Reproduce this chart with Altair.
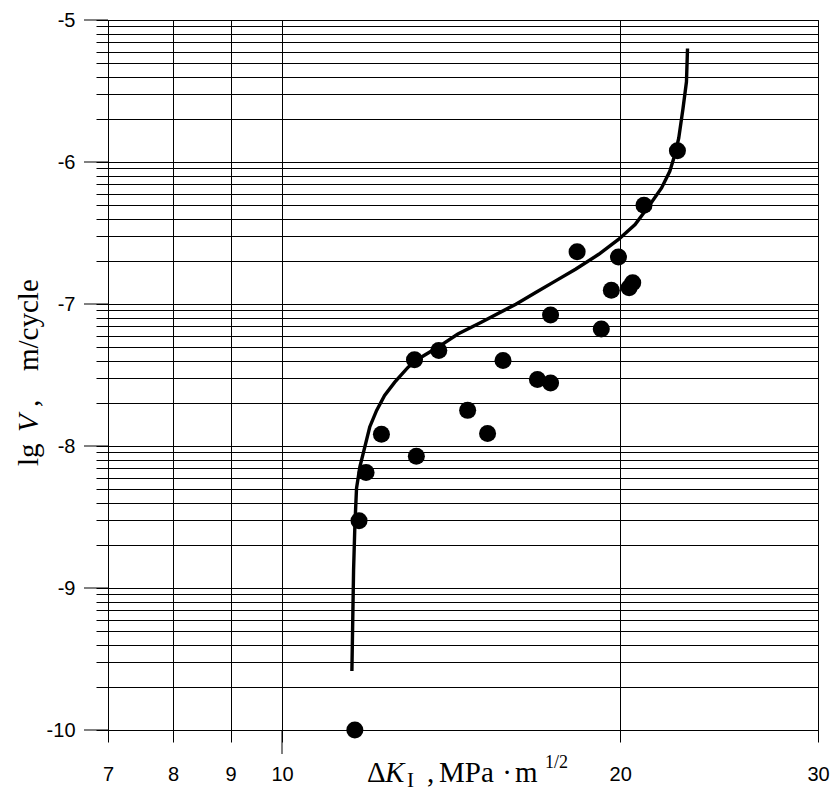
import math
import altair as alt
import pandas as pd

# ---- data ----
dk_points = [11.61, 11.71, 11.88, 12.26, 13.17, 13.12, 13.79, 14.63, 15.24, 15.73,
             16.88, 17.34, 17.34, 18.31, 19.24, 19.64, 19.93, 20.37, 20.52, 21.00, 22.49]
lgv_points = [-10.0, -8.527, -8.186, -7.917, -8.072, -7.393, -7.328, -7.749, -7.912, -7.398,
              -7.532, -7.557, -7.078, -6.632, -7.176, -6.903, -6.669, -6.886, -6.851, -6.304, -5.921]

dk_curve = [11.54, 11.58, 11.61, 11.65, 11.73, 11.85, 11.97, 12.14, 12.34, 12.60, 12.95,
            13.30, 13.76, 14.34, 15.03, 16.15, 16.82, 17.52, 18.25, 19.14, 19.93, 20.62,
            21.26, 21.77, 22.14, 22.37, 22.55, 22.75, 22.91, 22.96]
lgv_curve = [-9.584, -8.871, -8.567, -8.298, -8.147, -8.006, -7.866, -7.749, -7.644, -7.550, -7.445,
             -7.375, -7.305, -7.211, -7.130, -7.001, -6.919, -6.837, -6.755, -6.650, -6.545, -6.440,
             -6.299, -6.183, -6.066, -5.949, -5.832, -5.622, -5.435, -5.201]

x_ticks = [7, 8, 9, 10, 20, 30]
x_long_tick = [10]
y_major = [-10, -9, -8, -7, -6, -5]
y_grid = [d + math.log10(k) for d in y_major[:-1] for k in range(1, 10)] + [-5]

pts = pd.DataFrame({"x": dk_points, "y": lgv_points})
crv = pd.DataFrame({"x": dk_curve, "y": lgv_curve})
majors = pd.DataFrame({"y": y_major})
longx = pd.DataFrame({"x": x_long_tick})

W, H = 710, 710
xs = alt.Scale(type="log", domain=[7, 30], nice=False)
ys = alt.Scale(domain=[-10, -5], nice=False, zero=False)

x_axis = alt.Axis(values=x_ticks, tickCount=50, grid=True, gridColor="black", gridWidth=1,
                  gridOpacity=1, tickSize=12, tickColor="black", tickWidth=1, domain=False,
                  labelFont="Liberation Sans", labelFontSize=20, labelColor="black",
                  labelPadding=22, labelExpr="'' + datum.value", labelFlush=False,
                  labelOverlap=False, labelBound=False, title=None)
y_axis = alt.Axis(values=y_grid, tickCount=200, grid=True, gridColor="black", gridWidth=1,
                  gridOpacity=1, tickSize=12, tickColor="black", tickWidth=1, domain=False,
                  labelFont="Liberation Sans", labelFontSize=20, labelColor="black",
                  labelPadding=21,
                  labelExpr="abs(datum.value - round(datum.value)) < 1e-6 ? '' + round(datum.value) : ''",
                  labelOverlap=False, labelFlush=False, labelBound=False, title=None)

points = alt.Chart(pts).mark_circle(size=290, color="black", opacity=1).encode(
    x=alt.X("x:Q", scale=xs, axis=x_axis),
    y=alt.Y("y:Q", scale=ys, axis=y_axis),
)
line = alt.Chart(crv).mark_line(color="black", strokeWidth=3.4).encode(
    x=alt.X("x:Q", scale=xs, sort=None),
    y=alt.Y("y:Q", scale=ys),
)
major_ticks = alt.Chart(majors).mark_rule(color="black", strokeWidth=1).encode(
    y=alt.Y("y:Q", scale=ys), x=alt.value(-24), x2=alt.value(0)
)
long_tick = alt.Chart(longx).mark_rule(color="black", strokeWidth=1).encode(
    x=alt.X("x:Q", scale=xs), y=alt.value(H), y2=alt.value(H + 24)
)


def txt(s, x, y, size, style="normal", angle=0, align="left"):
    return alt.Chart(pd.DataFrame({"t": [s]})).mark_text(
        text=s, font="Liberation Serif", fontSize=size, fontStyle=style, angle=angle,
        align=align, baseline="alphabetic", color="black"
    ).encode(x=alt.value(x), y=alt.value(y))


texts = [
    # x title: ΔK_I , MPa · m^1/2
    txt("Δ", 259, 762, 29),
    txt("K", 277, 762, 29, "italic"),
    txt("I", 299, 767, 21),
    txt(",", 319, 762, 29),
    txt("MPa", 331, 762, 29),
    txt("·", 399, 762, 29, align="center"),
    txt("m", 407, 762, 29),
    txt("1/2", 437, 748, 18),
    # y title: lg V , m/cycle
    txt("lg", -70, 446, 29, angle=270),
    txt("V", -70, 412, 29, "italic", angle=270),
    txt(",", -70, 387, 29, angle=270),
    txt("m/cycle", -70, 351, 29, angle=270),
]

chart = alt.layer(line, points, major_ticks, long_tick, *texts).properties(
    width=W, height=H,
    autosize=alt.AutoSizeParams(type="none"),
    padding={"left": 100, "top": 12, "right": 12, "bottom": 62},
    background="white",
).configure_view(stroke="black", strokeWidth=1)

chart.save("out.html", embed_options={"renderer": "svg", "actions": False})
